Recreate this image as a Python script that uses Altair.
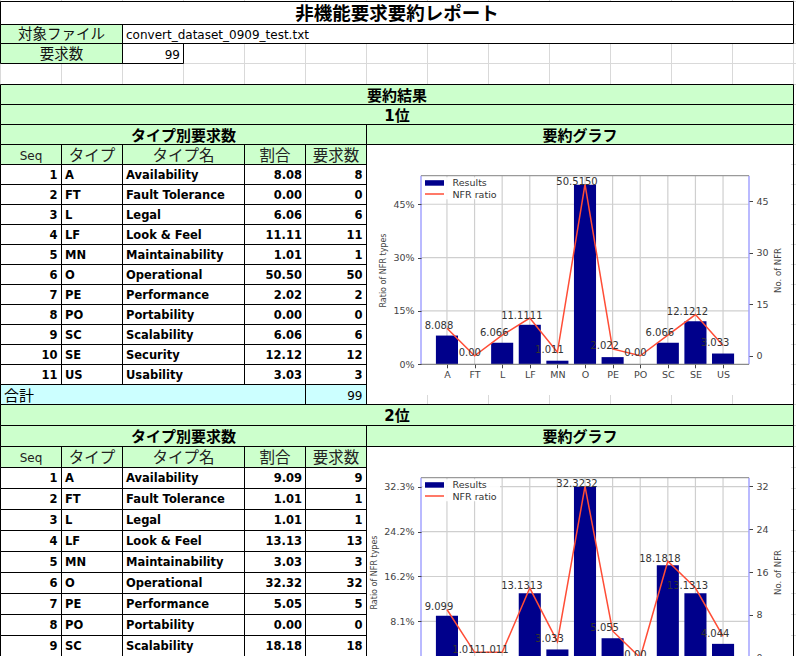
import json
import altair as alt
import pandas as pd

W, H = 796, 656

# ---------------- values ----------------
report_title = "非機能要求要約レポート"
file_label = "対象ファイル"
file_name = "convert_dataset_0909_test.txt"
count_label = "要求数"
total_count = 99
summary_title = "要約結果"
rank_titles = ["1位", "2位"]
table_title = "タイプ別要求数"
graph_title = "要約グラフ"
header_labels = ["Seq", "タイプ", "タイプ名", "割合", "要求数"]
total_label = "合計"

types = ["A", "FT", "L", "LF", "MN", "O", "PE", "PO", "SC", "SE", "US"]
type_names = ["Availability", "Fault Tolerance", "Legal", "Look & Feel", "Maintainability",
              "Operational", "Performance", "Portability", "Scalability", "Security", "Usability"]

ratios_1 = [8.08, 0.00, 6.06, 11.11, 1.01, 50.50, 2.02, 0.00, 6.06, 12.12, 3.03]
counts_1 = [8, 0, 6, 11, 1, 50, 2, 0, 6, 12, 3]
chart_ratio_labels_1 = ["8.08", "0.00", "6.06", "11.11", "1.01", "50.51", "2.02", "0.00", "6.06", "12.12", "3.03"]

ratios_2 = [9.09, 1.01, 1.01, 13.13, 3.03, 32.32, 5.05, 0.00, 18.18, 13.13, 4.04]
counts_2 = [9, 1, 1, 13, 3, 32, 5, 0, 18, 13, 4]
chart_ratio_labels_2 = ["9.09", "1.01", "1.01", "13.13", "3.03", "32.32", "5.05", "0.00", "18.18", "13.13", "4.04"]

left_ticks_1 = [0, 15, 30, 45]
left_tick_labels_1 = ["0%", "15%", "30%", "45%"]
right_ticks_1 = [0, 15, 30, 45]
left_ticks_2 = [8.08, 16.16, 24.24, 32.32]
left_tick_labels_2 = ["8.1%", "16.2%", "24.2%", "32.3%"]
right_ticks_2 = [0, 8, 16, 24, 32]

legend_labels = ["Results", "NFR ratio"]
left_axis_title = "Ratio of NFR types"
right_axis_title = "No. of NFR"

# ---------------- styling / layout ----------------
FONT = "'DejaVu Sans', 'Noto Sans CJK JP'"
LATIN = "DejaVu Sans"
GREEN, CYAN, WHITE = "#ccffcc", "#ccffff", "#ffffff"
GRID = "#d9d9d9"
BAR_C = "#00008b"
LINE_C = "#ff4d36"
TICK_C = "#444444"
COLS = [0.5, 61.5, 122.5, 183.5, 244.5, 305.5, 366.5, 427.5, 488.5, 549.5, 610.5, 671.5, 732.5, 793.5]
TABLE_R = COLS[6]
SHEET_R = COLS[13]
FRAME_L, FRAME_R = 421.0, 749.0
FRAME_H = 188.6
BAR_HALF = 0.4
TICK_FS = 9.5
# approximate DejaVu Sans advance widths (em) for tick-label width estimates
CHAR_EM = {".": 0.318, "%": 0.95}

X_PIX = alt.Scale(domain=[0, W], range=[0, W], nice=False, zero=False)
Y_PIX = alt.Scale(domain=[0, H], range=[0, H], nice=False, zero=False)


def px(f):
    return alt.X(f, type="quantitative", scale=X_PIX, axis=None)


def py(f):
    return alt.Y(f, type="quantitative", scale=Y_PIX, axis=None)


def mid(a, b):
    return (a + b) / 2


cells, frames, images, texts = [], [], [], []
row_lines = [1.5, 24.5, 43.5, 63.5, 84.5]


def add_cell(x0, x1, y0, y1, fill):
    cells.append(dict(x0=x0, x1=x1, y0=y0, y1=y1, fill=fill))


def add_text(x, y, text, size, style, color="#000000"):
    if y - size * 0.4 < H:  # rows below the window are not drawn
        texts.append(dict(x=x, y=y, text=str(text), size=size, style=style, color=color))


# top block
add_cell(COLS[0], SHEET_R, 1.5, 24.5, WHITE)
add_text(mid(COLS[0], SHEET_R), mid(1.5, 24.5) + 1, report_title, 18.5, "bold-center")
add_cell(COLS[0], COLS[2], 24.5, 43.5, GREEN)
add_text(mid(COLS[0], COLS[2]), mid(24.5, 43.5) + 1, file_label, 14.5, "normal-center", "#111111")
add_cell(COLS[2], SHEET_R, 24.5, 43.5, WHITE)
add_text(COLS[2] + 3.5, mid(24.5, 43.5) + 1, file_name, 12, "normal-left")
add_cell(COLS[0], COLS[2], 43.5, 63.5, GREEN)
add_text(mid(COLS[0], COLS[2]), mid(43.5, 63.5) + 1, count_label, 14.5, "normal-center", "#111111")
add_cell(COLS[2], COLS[3], 43.5, 63.5, WHITE)
add_text(COLS[3] - 3.5, mid(43.5, 63.5) + 1, total_count, 12, "normal-right")
add_cell(COLS[0], SHEET_R, 84.5, 104.5, GREEN)
add_text(mid(COLS[0], SHEET_R), mid(84.5, 104.5) + 1, summary_title, 15, "bold-center")


def add_section(rank, top, s, ratios, counts):
    for k in range(16):
        row_lines.append(top + k * s)
    add_cell(COLS[0], SHEET_R, top, top + s, GREEN)
    add_text(mid(COLS[0], SHEET_R), top + s / 2 + 1, rank, 15, "bold-center")
    y0 = top + s
    add_cell(COLS[0], TABLE_R, y0, y0 + s, GREEN)
    add_text(mid(COLS[0], TABLE_R), y0 + s / 2 + 1, table_title, 15, "bold-center")
    add_cell(TABLE_R, SHEET_R, y0, y0 + s, GREEN)
    add_text(mid(TABLE_R, SHEET_R), y0 + s / 2 + 1, graph_title, 15, "bold-center")
    y0 = top + 2 * s
    hx = [(COLS[0], COLS[1]), (COLS[1], COLS[2]), (COLS[2], COLS[4]), (COLS[4], COLS[5]), (COLS[5], COLS[6])]
    for (a, b), lab in zip(hx, header_labels):
        add_cell(a, b, y0, y0 + s, GREEN)
        add_text(mid(a, b), y0 + s / 2 + 1, lab, 12 if lab == "Seq" else 15.5, "normal-center", "#222222")
    for k in range(len(types)):
        r0 = top + (3 + k) * s
        yc = r0 + s / 2 + 1.2
        for a, b in hx:
            add_cell(a, b, r0, r0 + s, WHITE)
        add_text(hx[0][1] - 4, yc, k + 1, 11.5, "bold-right")
        add_text(hx[1][0] + 3.5, yc, types[k], 11.5, "bold-left")
        add_text(hx[2][0] + 3.5, yc, type_names[k], 11.5, "bold-left")
        add_text(hx[3][1] - 3.5, yc, f"{ratios[k]:.2f}", 11.5, "bold-right")
        add_text(hx[4][1] - 4, yc, counts[k], 11.5, "bold-right")
    r0 = top + 14 * s
    add_cell(COLS[0], COLS[5], r0, r0 + s, CYAN)
    add_cell(COLS[5], COLS[6], r0, r0 + s, CYAN)
    add_text(COLS[0] + 3.5, r0 + s / 2 + 1, total_label, 15, "normal-left")
    add_text(COLS[6] - 4, r0 + s / 2 + 1, sum(counts), 12, "normal-right")
    frames.append(dict(x0=TABLE_R, x1=SHEET_R, y0=top + 2 * s, y1=top + 15 * s))
    images.append(dict(x0=367.0, x1=791.0, y0=top + 2 * s + 0.5, y1=top + 15 * s - 9.5))
    return top + 2 * s + 31.2  # top of the plot frame inside the picture


frame_top_1 = add_section(rank_titles[0], 104.5, 20, ratios_1, counts_1)
frame_top_2 = add_section(rank_titles[1], 404.5, 21, ratios_2, counts_2)

cell_df = pd.DataFrame(cells)
frame_df = pd.DataFrame(frames)
image_df = pd.DataFrame(images)
text_df = pd.DataFrame(texts)

grid_rows = [dict(x=0, x2=W, y=y, y2=y) for y in sorted(set(row_lines))]
grid_rows += [dict(x=c, x2=c, y=0, y2=H) for c in COLS]
grid_df = pd.DataFrame(grid_rows)

sheet_grid = alt.Chart(grid_df).mark_rule(color=GRID, strokeWidth=1).encode(
    x=px("x"), x2="x2", y=py("y"), y2="y2")
cell_fill = alt.Chart(cell_df).mark_rect(strokeWidth=0).encode(
    x=px("x0"), x2="x1", y=py("y0"), y2="y1", fill=alt.Fill("fill:N", scale=None))
border_df = pd.concat([cell_df[["x0", "x1", "y0", "y1"]], frame_df], ignore_index=True)
cell_border = alt.Chart(border_df).mark_rect(fill="transparent", stroke="#000000", strokeWidth=1).encode(
    x=px("x0"), x2="x1", y=py("y0"), y2="y1")
image_bg = alt.Chart(image_df).mark_rect(color=WHITE, strokeWidth=0).encode(
    x=px("x0"), x2="x1", y=py("y0"), y2="y1")


def text_layer(style):
    weight, align = style.split("-")
    return alt.Chart(text_df).transform_filter(alt.datum.style == style).mark_text(
        font=FONT, fontWeight=weight, align=align, baseline="middle").encode(
        x=px("x"), y=py("y"), text="text:N",
        size=alt.Size("size:Q", scale=None), color=alt.Color("color:N", scale=None))


text_layers = [text_layer(s) for s in sorted(text_df["style"].unique())]


def label_width(s):
    return sum(CHAR_EM.get(ch, 0.636) for ch in s) * TICK_FS


def chart_layers(ratios, counts, ratio_labels, lticks, llabels, rticks, top):
    bottom = top + FRAME_H
    n = len(types)
    pad = 0.05 * ((n - 1) + 2 * BAR_HALF)
    xlo, xhi = -BAR_HALF - pad, (n - 1) + BAR_HALF + pad
    ly_max = max(ratios) * 1.05
    ry_lo, ry_hi = -0.05 * max(counts), 1.05 * max(counts)
    xs = alt.Scale(domain=[xlo, xhi], range=[FRAME_L, FRAME_R], nice=False, zero=False)
    yl = alt.Scale(domain=[0, ly_max], range=[bottom, top], nice=False, zero=False)
    yr = alt.Scale(domain=[ry_lo, ry_hi], range=[bottom, top], nice=False, zero=False)

    df = pd.DataFrame({"i": list(range(n)), "type": types, "ratio": ratios, "count": counts,
                       "rlab": ratio_labels, "clab": [str(c) for c in counts]})
    df["x0"] = df["i"] - BAR_HALF
    df["x1"] = df["i"] + BAR_HALF
    df["base"] = 0.0
    df["ymax"] = ly_max

    hgrid = pd.DataFrame({"t": [t for t in lticks if t > 0]})
    hgrid["xa"] = xlo
    hgrid["xb"] = xhi
    spines = pd.DataFrame({
        "xa": [xlo, xhi, xlo, xlo], "xb": [xlo, xhi, xhi, xhi],
        "ya": [0, 0, ly_max, 0], "yb": [ly_max, ly_max, ly_max, 0],
        "col": ["#a3a3ff", "#a3a3ff", "#9a9a9a", "#8a8a8a"], "sw": [1.5, 1.5, 1.2, 1.2]})

    if bottom + 3 < H:
        xaxis = alt.Axis(orient="bottom", offset=bottom - H, values=list(range(n)),
                         labelExpr=f"{json.dumps(types)}[datum.value]", domain=False, grid=False,
                         tickSize=3.5, tickColor=TICK_C, labelColor=TICK_C, labelFont=LATIN,
                         labelFontSize=TICK_FS, labelPadding=1.5, labelFlush=False, labelOverlap=False,
                         title=None, zindex=1)
    else:
        xaxis = None
    title_x = -(7.0 + max(label_width(s) for s in llabels) + 9.6)
    laxis = alt.Axis(orient="left", offset=-FRAME_L, values=lticks,
                     labelExpr=f"{json.dumps(llabels)}[indexof({json.dumps(lticks)}, datum.value)]",
                     domain=False, grid=False, tickSize=3.5, tickColor=TICK_C, labelColor=TICK_C,
                     labelFont=LATIN, labelFontSize=TICK_FS, labelPadding=3.5, labelFlush=False,
                     labelOverlap=False, title=left_axis_title, titleFont=LATIN, titleFontSize=8,
                     titleFontWeight="normal", titleColor=TICK_C, titleAngle=270, titleX=title_x,
                     titleY=(top + bottom) / 2, titleAlign="center", titleBaseline="middle", zindex=1)
    raxis = alt.Axis(orient="right", offset=FRAME_R - W, values=rticks, format="d",
                     domain=False, grid=False, tickSize=3.5, tickColor=TICK_C, labelColor=TICK_C,
                     labelFont=LATIN, labelFontSize=TICK_FS, labelPadding=3.5, labelFlush=False,
                     labelOverlap=False, title=right_axis_title, titleFont=LATIN, titleFontSize=8.5,
                     titleFontWeight="normal", titleColor=TICK_C, titleAngle=270, titleX=28.3,
                     titleY=(top + bottom) / 2, titleAlign="center", titleBaseline="middle", zindex=1)

    vgrid = alt.Chart(df).mark_rule(color="#cfcfcf", strokeWidth=1.2).encode(
        x=alt.X("i:Q", scale=xs, axis=None), y=alt.Y("base:Q", scale=yl, axis=None), y2="ymax")
    hgrid_l = alt.Chart(hgrid).mark_rule(color="#cfcfcf", strokeWidth=1.2).encode(
        x=alt.X("xa:Q", scale=xs, axis=None), x2="xb", y=alt.Y("t:Q", scale=yl, axis=None))
    bars = alt.Chart(df).mark_rect(color=BAR_C).encode(
        x=alt.X("x0:Q", scale=xs, axis=xaxis), x2="x1",
        y=alt.Y("ratio:Q", scale=yl, axis=laxis), y2="base")
    line = alt.Chart(df).mark_line(color=LINE_C, strokeWidth=1.5).encode(
        x=alt.X("i:Q", scale=xs, axis=None), y=alt.Y("count:Q", scale=yr, axis=raxis))
    base_lab = alt.Chart(df)
    enc = dict(x=alt.X("i:Q", scale=xs, axis=None), y=alt.Y("count:Q", scale=yr, axis=None))
    lab_ratio = base_lab.transform_filter(alt.datum["count"] > 0).mark_text(
        font=LATIN, fontSize=10, color="#333333", align="right", baseline="middle", dy=-2.5).encode(
        text="rlab:N", **enc)
    lab_count = base_lab.transform_filter(alt.datum["count"] > 0).mark_text(
        font=LATIN, fontSize=10, color="#333333", align="left", baseline="middle", dy=-2.5).encode(
        text="clab:N", **enc)
    lab_zero = base_lab.transform_filter(alt.datum["count"] == 0).mark_text(
        font=LATIN, fontSize=10, color="#333333", align="right", baseline="middle", dy=-2.5, dx=6.4).encode(
        text="rlab:N", **enc)
    spine = alt.Chart(spines).mark_rule().encode(
        x=alt.X("xa:Q", scale=xs, axis=None), x2="xb",
        y=alt.Y("ya:Q", scale=yl, axis=None), y2="yb",
        color=alt.Color("col:N", scale=None), strokeWidth=alt.StrokeWidth("sw:Q", scale=None))

    # legend (inside the upper-left corner of the plot frame)
    leg_box = pd.DataFrame({"x0": [FRAME_L + 1.5], "x1": [FRAME_L + 79], "y0": [top + 1.5], "y1": [top + 23.5]})
    leg_patch = pd.DataFrame({"x0": [FRAME_L + 4], "x1": [FRAME_L + 23], "y0": [top + 4.5], "y1": [top + 10]})
    leg_line = pd.DataFrame({"x0": [FRAME_L + 4], "x1": [FRAME_L + 23], "y": [top + 18.3]})
    leg_text = pd.DataFrame({"x": [FRAME_L + 31.5] * 2, "y": [top + 7.6, top + 19.2], "t": legend_labels})
    l_box = alt.Chart(leg_box).mark_rect(color="#ffffff", opacity=0.9).encode(
        x=px("x0"), x2="x1", y=py("y0"), y2="y1")
    l_patch = alt.Chart(leg_patch).mark_rect(color=BAR_C).encode(
        x=px("x0"), x2="x1", y=py("y0"), y2="y1")
    l_line = alt.Chart(leg_line).mark_rule(color=LINE_C, strokeWidth=1.5).encode(
        x=px("x0"), x2="x1", y=py("y"))
    l_text = alt.Chart(leg_text).mark_text(font=LATIN, fontSize=9.5, color="#333333", align="left",
                                           baseline="middle").encode(x=px("x"), y=py("y"), text="t:N")
    return [vgrid, hgrid_l, bars, line, lab_ratio, lab_count, lab_zero, spine,
            l_box, l_patch, l_line, l_text]


chart1 = chart_layers(ratios_1, counts_1, chart_ratio_labels_1, left_ticks_1, left_tick_labels_1,
                      right_ticks_1, frame_top_1)
chart2 = chart_layers(ratios_2, counts_2, chart_ratio_labels_2, left_ticks_2, left_tick_labels_2,
                      right_ticks_2, frame_top_2)

chart = alt.layer(
    sheet_grid, cell_fill, cell_border, image_bg, *text_layers, *chart1, *chart2
).resolve_scale(x="independent", y="independent").properties(
    width=W, height=H, padding=0, background="white",
    autosize=alt.AutoSizeParams(type="none"),
).configure_view(stroke=None)

chart.save("out.html", embed_options={"renderer": "svg", "actions": False})
